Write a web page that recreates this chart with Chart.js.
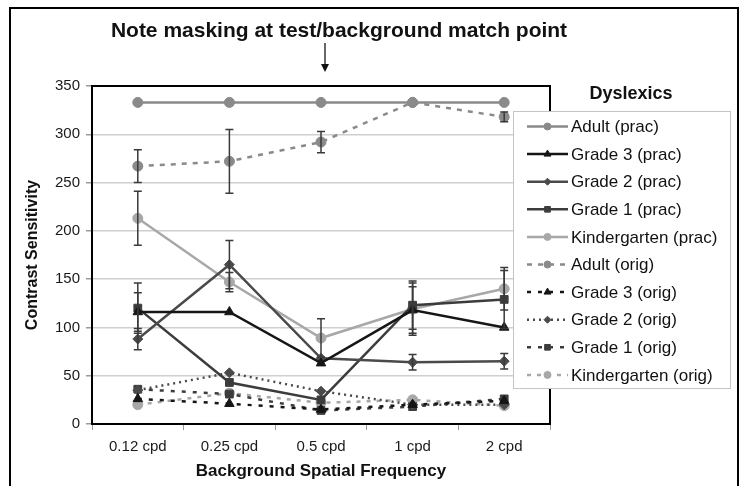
<!DOCTYPE html>
<html lang="en">
<head>
<meta charset="UTF-8">
<title>Contrast Sensitivity - Dyslexics</title>
<script src="https://cdn.jsdelivr.net/npm/chart.js"></script>
<style>
    body { margin: 0; background: #fff; }
    canvas { display: block; }
</style>
</head>
<body>
<canvas id="csChart" width="746" height="486"></canvas>
<script>
// Categories and axis ticks
const frequencies = ['0.12 cpd', '0.25 cpd', '0.5 cpd', '1 cpd', '2 cpd'];
const yTicks = [0, 50, 100, 150, 200, 250, 300, 350];

// Practised thresholds (solid lines)
const adultPrac  = [333, 333, 333, 333, 333];
const grade3Prac = [116, 116, 63, 118, 100];
const grade2Prac = [88, 165, 68, 64, 65];
const grade1Prac = [120, 43, 25, 123, 129];
const kinderPrac = [213, 147, 89, 119, 140];

// Original thresholds (dashed / dotted lines)
const adultOrig  = [267, 272, 292, 333, 318];
const grade3Orig = [26, 21, 15, 20, 24];
const grade2Orig = [35, 53, 34, 20, 20];
const grade1Orig = [36, 31, 14, 18, 26];
const kinderOrig = [20, 32, 22, 25, 19];

// Error bar half-lengths (0 = none drawn)
const adultOrigErr  = [17, 33, 11, 0, 5];
const kinderPracErr = [28, 10, 20, 27, 22];
const grade2PracErr = [11, 25, 0, 8, 8];
const grade1PracErr = [26, 0, 0, 25, 30];
const grade3PracErr = [20, 0, 0, 24, 0];

const FONT = 'Liberation Sans, Arial, sans-serif';

function series(label, data, color, style, radius, dash, errors) {
    return {
        label: label,
        data: data,
        errors: errors || null,
        borderColor: color,
        backgroundColor: color,
        pointBackgroundColor: color,
        pointBorderColor: color,
        pointStyle: style,
        pointRadius: radius,
        pointBorderWidth: 1,
        borderWidth: 2.5,
        borderDash: dash,
        tension: 0,
        fill: false
    };
}

const datasets = [
    series('Adult (prac)', adultPrac, '#8a8a8a', 'circle', 5, []),
    series('Grade 3 (prac)', grade3Prac, '#161616', 'triangle', 5.5, [], grade3PracErr),
    series('Grade 2 (prac)', grade2Prac, '#4a4a4a', 'rectRot', 5, [], grade2PracErr),
    series('Grade 1 (prac)', grade1Prac, '#3c3c3c', 'rect', 5.5, [], grade1PracErr),
    series('Kindergarten (prac)', kinderPrac, '#a8a8a8', 'circle', 5, [], kinderPracErr),
    series('Adult (orig)', adultOrig, '#8a8a8a', 'circle', 5, [5, 6], adultOrigErr),
    series('Grade 3 (orig)', grade3Orig, '#161616', 'triangle', 5.5, [4, 7]),
    series('Grade 2 (orig)', grade2Orig, '#4a4a4a', 'rectRot', 5, [2, 4]),
    series('Grade 1 (orig)', grade1Orig, '#3c3c3c', 'rect', 5.5, [4, 7]),
    series('Kindergarten (orig)', kinderOrig, '#a8a8a8', 'circle', 5, [4, 6])
];

// error bars drawn through the scales
const errorBars = {
    id: 'errorBars',
    afterDatasetsDraw(chart) {
        const { ctx, scales: { x, y } } = chart;
        ctx.save();
        ctx.strokeStyle = '#3a3a3a';
        ctx.lineWidth = 1.5;
        chart.data.datasets.forEach(ds => {
            if (!ds.errors) return;
            ds.errors.forEach((e, i) => {
                if (!e) return;
                const px = x.getPixelForValue(i);
                const top = y.getPixelForValue(ds.data[i] + e);
                const bot = y.getPixelForValue(ds.data[i] - e);
                ctx.beginPath();
                ctx.moveTo(px, top); ctx.lineTo(px, bot);
                ctx.moveTo(px - 4, top); ctx.lineTo(px + 4, top);
                ctx.moveTo(px - 4, bot); ctx.lineTo(px + 4, bot);
                ctx.stroke();
            });
        });
        ctx.restore();
    }
};

// plot frame, outer frame, note and arrow
const decorations = {
    id: 'decorations',
    beforeDatasetsDraw(chart) {
        const { ctx, chartArea: a } = chart;
        ctx.save();
        ctx.strokeStyle = '#000';
        ctx.lineWidth = 2;
        ctx.strokeRect(a.left, a.top, a.right - a.left, a.bottom - a.top);
        ctx.restore();
    },
    afterDraw(chart) {
        const { ctx } = chart;
        ctx.save();
        ctx.strokeStyle = '#000';
        ctx.lineWidth = 2;
        ctx.strokeRect(10, 8, 728, 500);

        ctx.fillStyle = '#111';
        ctx.font = 'bold 21px ' + FONT;
        ctx.textAlign = 'center';
        ctx.textBaseline = 'middle';
        ctx.fillText('Note masking at test/background match point', 339, 31);

        const ax = 325;
        ctx.lineWidth = 1.2;
        ctx.beginPath();
        ctx.moveTo(ax, 43); ctx.lineTo(ax, 66);
        ctx.stroke();
        ctx.beginPath();
        ctx.moveTo(ax - 4, 64); ctx.lineTo(ax + 4, 64); ctx.lineTo(ax, 72);
        ctx.closePath();
        ctx.fill();
        ctx.restore();
    }
};

// legend box drawn on top of the plot edge
const legendBox = {
    id: 'legendBox',
    afterDraw(chart) {
        const { ctx } = chart;
        const bx = 513, by = 111, bw = 217, bh = 277;
        ctx.save();
        ctx.fillStyle = '#fff';
        ctx.fillRect(bx, by, bw, bh);
        ctx.strokeStyle = '#c4c4c4';
        ctx.lineWidth = 1;
        ctx.strokeRect(bx + 0.5, by + 0.5, bw, bh);

        ctx.fillStyle = '#111';
        ctx.font = 'bold 18px ' + FONT;
        ctx.textAlign = 'center';
        ctx.textBaseline = 'middle';
        ctx.fillText('Dyslexics', 631, 94);

        ctx.font = '17px ' + FONT;
        ctx.textAlign = 'left';
        chart.data.datasets.forEach((ds, i) => {
            const cy = 126.5 + i * 27.6;
            ctx.strokeStyle = ds.borderColor;
            ctx.fillStyle = ds.borderColor;
            ctx.lineWidth = 2.5;
            ctx.setLineDash(ds.borderDash);
            ctx.beginPath();
            ctx.moveTo(527, cy); ctx.lineTo(568, cy);
            ctx.stroke();
            ctx.setLineDash([]);
            ctx.lineWidth = 1;
            Chart.helpers.drawPoint(ctx, {
                pointStyle: ds.pointStyle,
                radius: ds.pointRadius - 1.5,
                rotation: 0,
                borderWidth: 1
            }, 547.5, cy);
            ctx.fillStyle = '#111';
            ctx.fillText(ds.label, 571, cy + 1);
        });
        ctx.restore();
    }
};

new Chart(document.getElementById('csChart'), {
    type: 'line',
    data: { labels: frequencies, datasets: datasets },
    options: {
        responsive: false,
        animation: false,
        layout: { padding: { top: 86, right: 196, left: 0, bottom: 0 } },
        plugins: {
            legend: { display: false },
            tooltip: { enabled: false }
        },
        scales: {
            x: {
                offset: true,
                grid: { offset: true, drawOnChartArea: false, tickLength: 6, tickColor: '#9a9a9a' },
                border: { display: false },
                ticks: { color: '#1a1a1a', padding: 8, font: { family: FONT, size: 15 } },
                title: {
                    display: true,
                    text: 'Background Spatial Frequency',
                    color: '#111',
                    font: { family: FONT, size: 17, weight: 'bold' },
                    padding: { top: 0, bottom: 4 }
                },
                afterFit(scale) { scale.height = 62; }
            },
            y: {
                min: yTicks[0],
                max: yTicks[yTicks.length - 1],
                grid: { color: '#cfcfcf', lineWidth: 1.5, tickLength: 6, tickColor: '#9a9a9a' },
                border: { display: false },
                ticks: {
                    stepSize: yTicks[1] - yTicks[0],
                    color: '#1a1a1a',
                    padding: 6,
                    font: { family: FONT, size: 15 }
                },
                title: {
                    display: true,
                    text: 'Contrast Sensitivity',
                    color: '#111',
                    font: { family: FONT, size: 16, weight: 'bold' },
                    padding: { top: 23, bottom: 0 }
                },
                afterFit(scale) { scale.width = 92; }
            }
        }
    },
    plugins: [decorations, errorBars, legendBox]
});
</script>
</body>
</html>
